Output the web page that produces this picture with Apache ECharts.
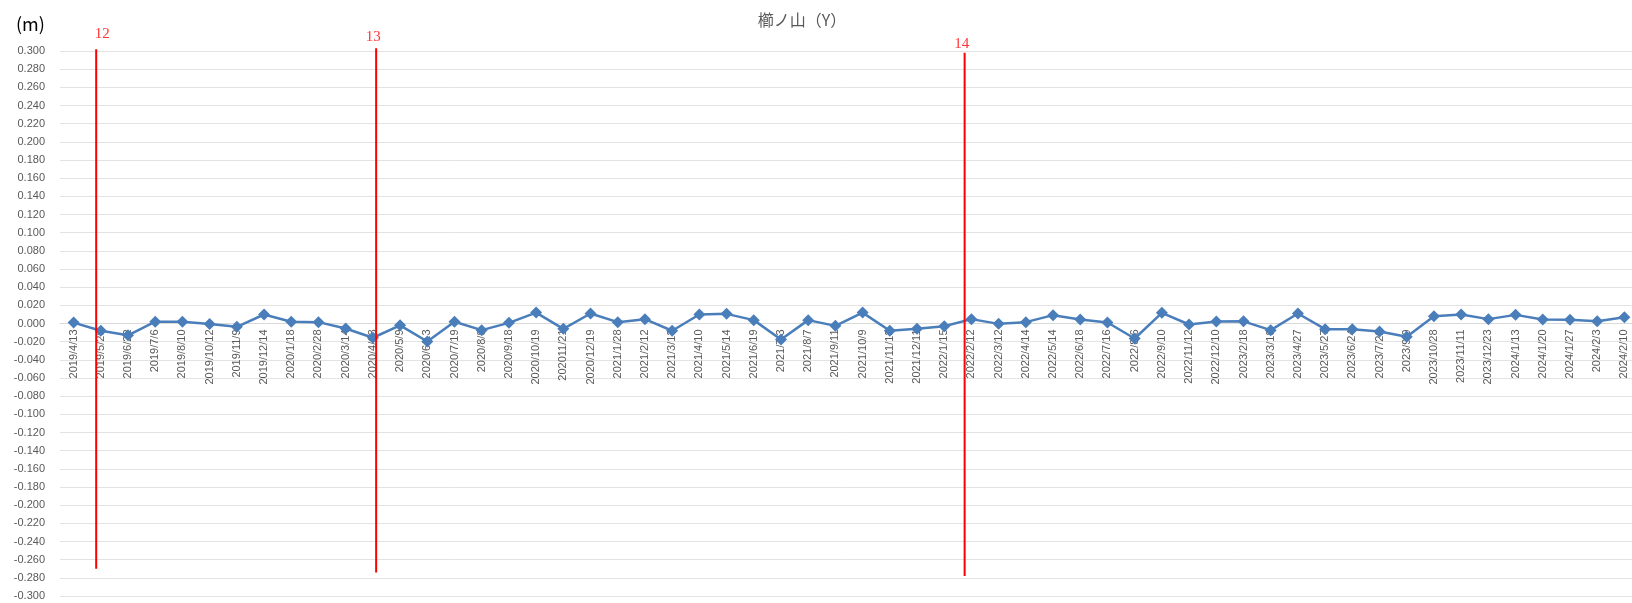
<!DOCTYPE html>
<html>
<head>
<meta charset="utf-8">
<script src="https://cdn.jsdelivr.net/npm/echarts@6/dist/echarts.min.js"></script>
<style>
  html, body { margin: 0; padding: 0; background: #fff; }
  #main { width: 1632px; height: 603px; }
</style>
</head>
<body>
<div id="main"></div>
<script>
// survey dates (category axis)
var dates = [
    '2019/4/13', '2019/5/25', '2019/6/22', '2019/7/6', '2019/8/10', '2019/10/12', '2019/11/9', '2019/12/14',
    '2020/1/18', '2020/2/28', '2020/3/14', '2020/4/18', '2020/5/9', '2020/6/13', '2020/7/19', '2020/8/8',
    '2020/9/18', '2020/10/19', '202011/21', '2020/12/19', '2021/1/28', '2021/2/12', '2021/3/13', '2021/4/10',
    '2021/5/14', '2021/6/19', '2021/7/3', '2021/8/7', '2021/9/11', '2021/10/9', '2021/11/13', '2021/12/11',
    '2022/1/15', '2022/2/12', '2022/3/12', '2022/4/14', '2022/5/14', '2022/6/18', '2022/7/16', '2022/8/6',
    '2022/9/10', '2022/11/12', '2022/12/10', '2023/2/18', '2023/3/18', '2023/4/27', '2023/5/27', '2023/6/24',
    '2023/7/22', '2023/9/9', '2023/10/28', '2023/11/11', '2023/12/23', '2024/1/13', '2024/1/20', '2024/1/27',
    '2024/2/3', '2024/2/10'
];

// displacement Y (m)
var dispY = [
    0.001, -0.008, -0.013, 0.002, 0.002, -0.0005, -0.0037, 0.0099,
    0.002, 0.0015, -0.0055, -0.0157, -0.002, -0.0198, 0.002, -0.0073,
    0.0007, 0.012, -0.0059, 0.011, 0.0015, 0.0048, -0.008, 0.0099,
    0.0106, 0.0037, -0.0176, 0.0037, -0.0026, 0.012, -0.008, -0.0059,
    -0.003, 0.0048, -0.0004, 0.0015, 0.0092, 0.0044, 0.0011, -0.0165,
    0.0117, -0.0011, 0.0022, 0.0024, -0.0073, 0.011, -0.0062, -0.0062,
    -0.0088, -0.0146, 0.008, 0.010, 0.0048, 0.0095, 0.0044, 0.004,
    0.0026, 0.007
];

// red event markers (position in category units)
var markerNames = ['12', '13', '14'];
var markerX = [0.83, 11.12, 32.75];
var markerTop = [0.302, 0.303, 0.298];
var markerBottom = [-0.270, -0.274, -0.278];

var chart = echarts.init(document.getElementById('main'));

// label nudges for the marker numbers
var labelOffsets = [[6, -1], [-3, 3], [-3, 5]];

var markerSeries = [];
for (var i = 0; i < markerNames.length; i++) {
    markerSeries.push({
        type: 'line',
        xAxisIndex: 1,
        clip: false,
        symbol: 'none',
        silent: true,
        lineStyle: { color: '#ff0000', width: 2 },
        data: [[markerX[i], markerTop[i]], [markerX[i], markerBottom[i]]],
        z: 5
    });
}
var markerLabels = markerNames.map(function (n, i) {
    return {
        value: [markerX[i], markerTop[i]],
        label: { offset: labelOffsets[i] }
    };
});
markerSeries.push({
    type: 'scatter',
    xAxisIndex: 1,
    clip: false,
    silent: true,
    symbolSize: 1,
    itemStyle: { color: 'rgba(0,0,0,0)' },
    label: {
        show: true,
        position: 'top',
        distance: 6,
        color: '#ff0000',
        fontSize: 15,
        fontFamily: 'Liberation Serif',
        formatter: function (p) { return markerNames[p.dataIndex]; }
    },
    data: markerLabels,
    z: 6
});

var option = {
    animation: false,
    title: [{
        text: '櫛ノ山（Y）',
        left: 797,
        textAlign: 'center',
        top: 7,
        textStyle: { color: '#595959', fontSize: 16, fontWeight: 'normal', fontFamily: 'Noto Sans CJK JP' }
    }, {
        text: '(m)',
        left: 11,
        top: 10,
        textStyle: { color: '#000', fontSize: 18, fontWeight: 'normal', fontFamily: 'Noto Sans CJK JP' }
    }],
    grid: { left: 60, top: 51, width: 1578, height: 545, outerBoundsMode: 'none', containLabel: false },
    xAxis: [{
        type: 'category',
        data: dates,
        boundaryGap: true,
        position: 'bottom',
        offset: -272.5,   // sits on the zero line
        axisLine: { onZero: false, lineStyle: { color: '#d9d9d9' } },
        axisTick: { show: false },
        axisLabel: {
            rotate: 90,
            interval: 0,
            margin: 6,
            color: '#595959',
            fontSize: 11,
            fontFamily: 'Liberation Sans'
        },
        splitLine: { show: false }
    }, {
        type: 'value',
        position: 'top',
        min: -0.5,
        max: dates.length - 0.5,
        show: false
    }],
    yAxis: {
        type: 'value',
        min: -0.3,
        max: 0.3,
        interval: 0.02,
        axisLine: { show: false },
        axisTick: { show: false },
        axisLabel: {
            color: '#595959',
            fontSize: 11,
            margin: 15,
            fontFamily: 'Liberation Sans',
            formatter: function (v) { return (Math.abs(v) < 1e-9 ? 0 : v).toFixed(3); }
        },
        splitLine: { lineStyle: { color: '#e3e3e3', width: 1 } }
    },
    series: [{
        type: 'line',
        data: dispY,
        symbol: 'diamond',
        symbolSize: 12,
        lineStyle: { color: '#4a7ebb', width: 2.5 },
        itemStyle: { color: '#4a7ebb' },
        z: 3
    }].concat(markerSeries)
};

chart.setOption(option);
</script>
</body>
</html>
